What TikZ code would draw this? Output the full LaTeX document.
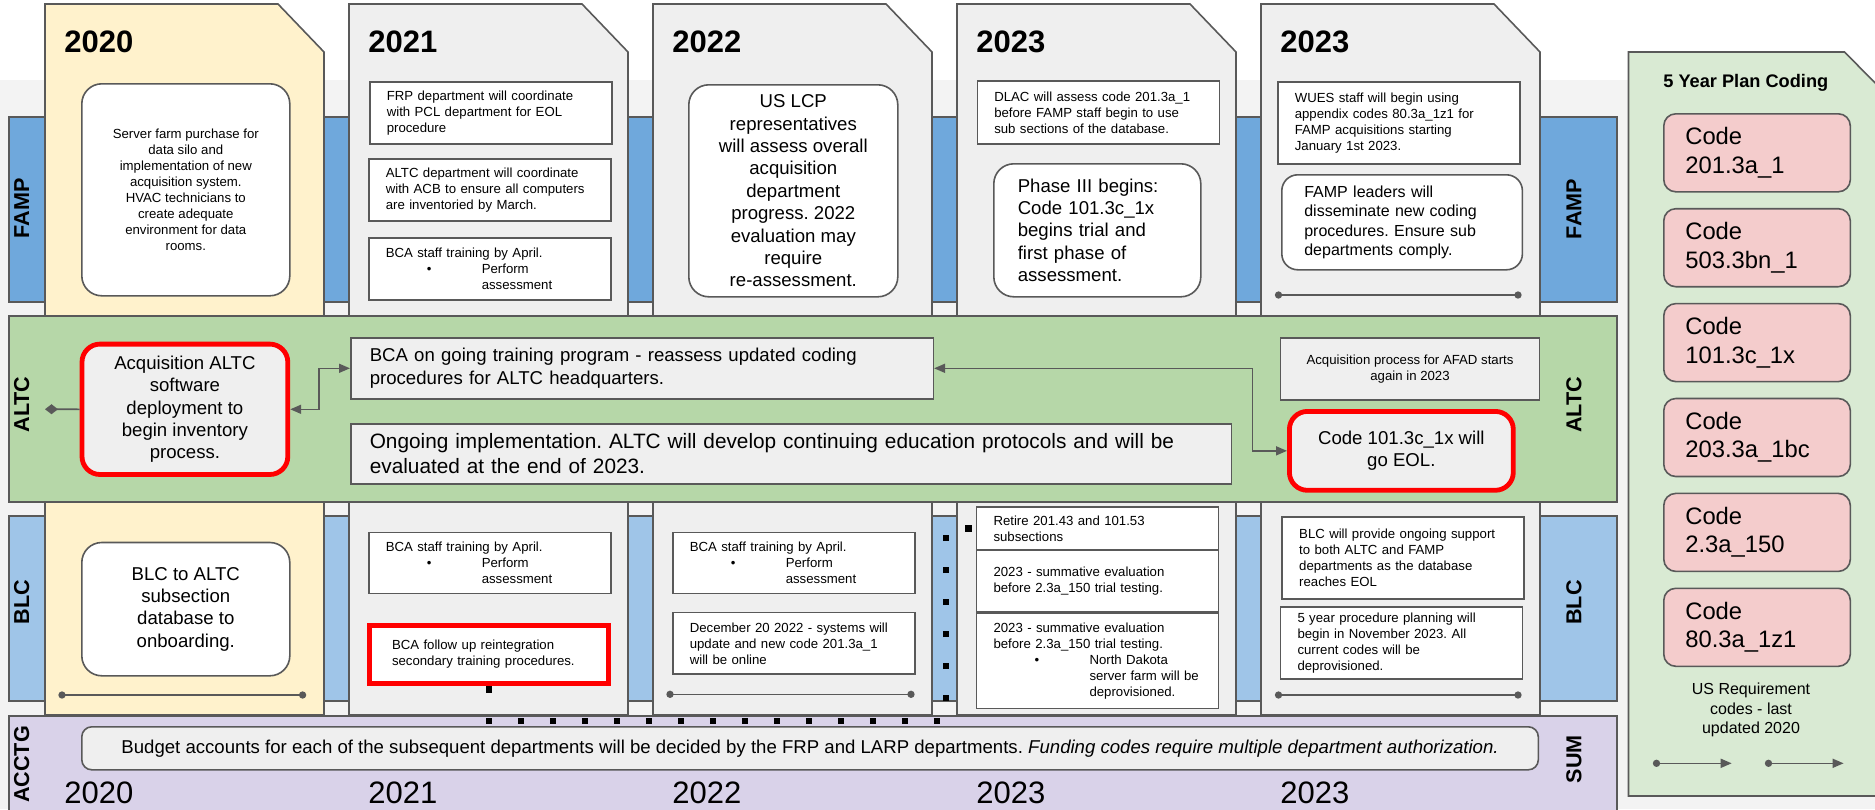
\documentclass[tikz,border=0pt]{standalone}
\usepackage{fontspec}
\setmainfont{Liberation Sans}
\usetikzlibrary{arrows.meta}

\definecolor{edge}{HTML}{595959}
\definecolor{bggray}{HTML}{F3F3F3}
\definecolor{cardgray}{HTML}{EFEFEF}
\definecolor{cardyel}{HTML}{FFF2CC}
\definecolor{fampblue}{HTML}{6FA8DC}
\definecolor{blcblue}{HTML}{9FC5E8}
\definecolor{altcgreen}{HTML}{B6D7A8}
\definecolor{acctgpurple}{HTML}{D9D2E9}
\definecolor{plangreen}{HTML}{D9EAD3}
\definecolor{codepink}{HTML}{F4CCCC}
\definecolor{alertred}{HTML}{FF0000}

\newcommand\smalltxt{\fontsize{6.6}{8}\selectfont}
\newcommand\midtxt{\fontsize{8}{9.6}\selectfont}
\newcommand\bigtxt{\fontsize{9.3}{11.2}\selectfont}
\newcommand\wideltxt{\fontsize{10.4}{12.5}\selectfont}
\newcommand\budgettxt{\fontsize{9.3}{11}\selectfont}
\newcommand\codetxt{\fontsize{11.9}{14.2}\selectfont}
\newcommand\yeartxt{\fontsize{15.5}{18}\selectfont}
\newcommand\lanetxt{\fontsize{10.8}{13}\selectfont\bfseries}
\newcommand\bulitem{\makebox[48pt][l]{\hspace*{20.5pt}\textbullet}}

\tikzset{
  lane/.style={draw=edge, line width=0.8pt},
  lanelbl/.style={font=\lanetxt, rotate=90},
  hdryear/.style={font=\yeartxt\bfseries, anchor=base west, inner sep=0pt},
  botyear/.style={font=\yeartxt, anchor=base west, inner sep=0pt},
  notebox/.style={draw=edge, fill=white, line width=0.8pt, font=\smalltxt, align=left,
    text width=104pt, inner xsep=8.5pt, inner ysep=1pt, anchor=north west},
  greybox/.style={draw=edge, fill=cardgray, line width=0.8pt, inner ysep=1pt, anchor=north west},
  roundbox/.style={draw=edge, fill=white, line width=0.8pt, rounded corners=10pt,
    align=center, inner sep=1pt, anchor=north west},
  alertbox/.style={draw=alertred, fill=cardgray, line width=2.4pt, inner sep=1pt, anchor=north west},
  codebox/.style={draw=edge, fill=codepink, line width=0.8pt, rounded corners=6pt, font=\codetxt,
    align=left, text width=71.75pt, inner xsep=10.75pt, minimum height=39pt, anchor=north west},
  conn/.style={draw=edge, line width=0.8pt},
  biarrow/.style={conn, {Triangle[length=5.5pt,width=4.5pt]}-{Triangle[length=5.5pt,width=4.5pt]}},
  dumbbell/.style={conn, {Circle[length=3.6pt]}-{Circle[length=3.6pt]}},
  dotarrow/.style={conn, {Circle[length=3.6pt]}-{Triangle[length=5.5pt,width=4.5pt]}},
  sqdots/.style={black, line width=3.3pt, dash pattern=on 3.3pt off 12.7pt}
}

\begin{document}
\frenchspacing
\begin{tikzpicture}[x=0.5pt, y=-0.5pt]
\useasboundingbox (0,0) rectangle (1875,809);
\clip (0,0) rectangle (1875,809);

%backdrop
\fill[bggray] (0,80) rectangle (1875,809);

%lanes under the cards
\filldraw[lane, fill=fampblue] (9,117) rectangle (1617,302);
\filldraw[lane, fill=blcblue] (9,516) rectangle (1617,701);

%year cards
\foreach \x/\col in {45/cardyel,349/cardgray,653/cardgray,957/cardgray,1261/cardgray}
  \filldraw[fill=\col, draw=edge, line width=0.8pt]
    (\x,4) -- ++(233,0) -- ++(46,48) -- ({\x+279},715) -- (\x,715) -- cycle;

%lanes over the cards
\filldraw[lane, fill=altcgreen] (9,316) rectangle (1617,502);
\filldraw[lane, fill=acctgpurple] (9,716) rectangle (1617,830);

%plan panel
\filldraw[fill=plangreen, draw=edge, line width=0.8pt]
  (1628.5,52) -- (1844.5,52) -- (1892,100) -- (1892,796) -- (1628.5,796) -- cycle;

%years
\foreach \x/\yr [count=\i] in {64/2020,368/2021,672/2022,976/2023,1280/2023} {
  \node[hdryear] (hyr\i) at (\x,52.7) {\yr};
  \node[botyear] (byr\i) at (\x,803) {\yr};
}

%lane labels
\node[lanelbl] (famp-l) at (21.7,208.5) {FAMP};
\node[lanelbl] (altc-l) at (21.7,404.5) {ALTC};
\node[lanelbl] (blc-l) at (21.7,602) {BLC};
\node[lanelbl] (acctg-l) at (21.7,764.5) {ACCTG};
\node[lanelbl] (famp-r) at (1574,209) {FAMP};
\node[lanelbl] (altc-r) at (1574,405) {ALTC};
\node[lanelbl] (blc-r) at (1574,602.5) {BLC};
\node[lanelbl] (sum-r) at (1574,759) {SUM};

%FAMP row
\node[roundbox, font=\smalltxt, minimum width=104pt, minimum height=106pt] (silo) at (81,83)
  {Server farm purchase for\\data silo and\\implementation of new\\acquisition system.\\HVAC technicians to\\create adequate\\environment for data\\rooms.};
\node[notebox, minimum height=31pt] (frp) at (369,81)
  {FRP department will coordinate\\with PCL department for EOL\\procedure};
\node[notebox, minimum height=31pt] (acb) at (368,158)
  {ALTC department will coordinate\\with ACB to ensure all computers\\are inventoried by March.};
\node[notebox, minimum height=31pt] (bcaone) at (368,237)
  {BCA staff training by April.\\\bulitem Perform\\\hspace*{48pt}assessment};
\node[roundbox, font=\bigtxt, minimum width=104.5pt, minimum height=106pt] (uslcp) at (688,84)
  {US LCP\\representatives\\will assess overall\\acquisition\\department\\progress. 2022\\evaluation may\\require\\re-assessment.};
\node[notebox, minimum height=31.5pt] (dlac) at (976.5,80)
  {DLAC will assess code 201.3a\_1\\before FAMP staff begin to use\\sub sections of the database.};
\node[roundbox, font=\bigtxt, align=left, text width=79.5pt, inner xsep=12pt, minimum height=66.5pt] (phase) at (993,163)
  {Phase III begins:\\Code 101.3c\_1x\\begins trial and\\first phase of\\assessment.};
\node[notebox, minimum height=41pt] (wues) at (1277,81)
  {WUES staff will begin using\\appendix codes 80.3a\_1z1 for\\FAMP acquisitions starting\\January 1st 2023.};
\node[roundbox, font=\midtxt, align=left, text width=97.8pt, inner xsep=11.25pt, minimum height=47.5pt, rounded corners=8pt] (leaders) at (1281,174)
  {FAMP leaders will\\disseminate new coding\\procedures. Ensure sub\\departments comply.};

%ALTC row
\node[alertbox, rounded corners=9pt, font=\bigtxt, align=center, minimum width=102.9pt, minimum height=65.2pt] (acq) at (79.6,341.7)
  {Acquisition ALTC\\software\\deployment to\\begin inventory\\process.};
\node[greybox, font=\bigtxt, align=left, text width=272.25pt, inner xsep=9.5pt, minimum height=30.5pt] (bcago) at (350,337)
  {BCA on going training program - reassess updated coding\\procedures for ALTC headquarters.};
\node[greybox, font=\wideltxt, align=left, text width=421.35pt, inner xsep=9.5pt, minimum height=30pt] (ongo) at (350,423)
  {Ongoing implementation. ALTC will develop continuing education protocols and will be\\evaluated at the end of 2023.};
\node[greybox, font=\smalltxt, align=center, minimum width=129.5pt, minimum height=31pt] (afad) at (1279.7,337)
  {Acquisition process for AFAD starts\\again in 2023};
\node[alertbox, rounded corners=9pt, font=\bigtxt, align=center, minimum width=111.95pt, minimum height=39.45pt] (eol) at (1287,409)
  {Code 101.3c\_1x will\\go EOL.};

%BLC row
\node[roundbox, font=\bigtxt, minimum width=104pt, minimum height=66.65pt] (blcdb) at (81,541.7)
  {BLC to ALTC\\subsection\\database to\\onboarding.};
\node[notebox, minimum height=30.5pt] (bcatwo) at (368,531.7)
  {BCA staff training by April.\\\bulitem Perform\\\hspace*{48pt}assessment};
\node[alertbox, fill=white, font=\smalltxt, align=left, text width=96.85pt, inner xsep=11.3pt, minimum height=29.25pt] (follow) at (367,622.7)
  {BCA follow up reintegration\\secondary training procedures.};
\node[notebox, minimum height=30.5pt] (bcathree) at (672,531.7)
  {BCA staff training by April.\\\bulitem Perform\\\hspace*{48pt}assessment};
\node[notebox, minimum height=30.8pt] (dec) at (672,611.7)
  {December 20 2022 - systems will\\update and new code 201.3a\_1\\will be online};
\node[notebox, minimum height=21.65pt] (retire) at (975.7,506)
  {Retire 201.43 and 101.53\\subsections};
\node[notebox, minimum height=30.85pt] (summone) at (975.7,549.3)
  {2023 - summative evaluation\\before 2.3a\_150 trial testing.};
\node[notebox, minimum height=47.6pt] (summtwo) at (975.7,612.5)
  {2023 - summative evaluation\\before 2.3a\_150 trial testing.\\\bulitem North Dakota\\\hspace*{48pt}server farm will be\\\hspace*{48pt}deprovisioned.};
\node[notebox, minimum height=41.15pt] (blcsup) at (1281.4,516)
  {BLC will provide ongoing support\\to both ALTC and FAMP\\departments as the database\\reaches EOL};
\node[notebox, minimum height=36.15pt] (fiveyr) at (1279.7,606)
  {5 year procedure planning will\\begin in November 2023. All\\current codes will be\\deprovisioned.};

%ACCTG row
\node[greybox, rounded corners=5pt, font=\budgettxt, align=center, minimum width=728.25pt, minimum height=21.5pt] (budget) at (81,726)
  {Budget accounts for each of the subsequent departments will be decided by the FRP and LARP departments. \textit{Funding codes require multiple department authorization.}};

%plan panel contents
\node[font=\fontsize{9.1}{11}\selectfont\bfseries, anchor=base west, inner sep=0pt] (plan) at (1663,87) {5 Year Plan Coding};
\foreach \c [count=\i from 0] in {201.3a\_1,503.3bn\_1,101.3c\_1x,203.3a\_1bc,2.3a\_150,80.3a\_1z1}
  \node[codebox] (code\i) at (1663,{113+94.9*\i}) {Code\\\c};
\node[font=\midtxt, align=center] (usreq) at (1751,710) {US Requirement\\codes - last\\updated 2020};

%connectors
\coordinate (acqtip) at (45,409.2);
\draw[conn, {Diamond[length=6.5pt,width=5pt]}-] (acqtip) -- (acq.west);
\draw[biarrow] (acq.east) -- ++(29,0) |- (bcago.west);
\draw[biarrow] (bcago.east) -- ++(318.5,0) |- (eol.west);

\coordinate (sqturn) at (946,721);
\draw[sqdots] (follow.south) |- (sqturn) |- (retire.west);

\coordinate (da1) at (58.4,695);   \coordinate (da2) at (306.2,695);
\coordinate (db1) at (666.4,694.3); \coordinate (db2) at (914.6,694.3);
\coordinate (dc1) at (1274.9,295); \coordinate (dc2) at (1521.6,295);
\coordinate (dd1) at (1274.9,695); \coordinate (dd2) at (1521.6,695);
\draw[dumbbell] (da1) -- (da2);
\draw[dumbbell] (db1) -- (db2);
\draw[dumbbell] (dc1) -- (dc2);
\draw[dumbbell] (dd1) -- (dd2);

\coordinate (pa1) at (1652.9,763.3); \coordinate (pa2) at (1731.7,763.3);
\coordinate (pb1) at (1764.9,763.3); \coordinate (pb2) at (1843.6,763.3);
\draw[dotarrow] (pa1) -- (pa2);
\draw[dotarrow] (pb1) -- (pb2);

\end{tikzpicture}
\end{document}
